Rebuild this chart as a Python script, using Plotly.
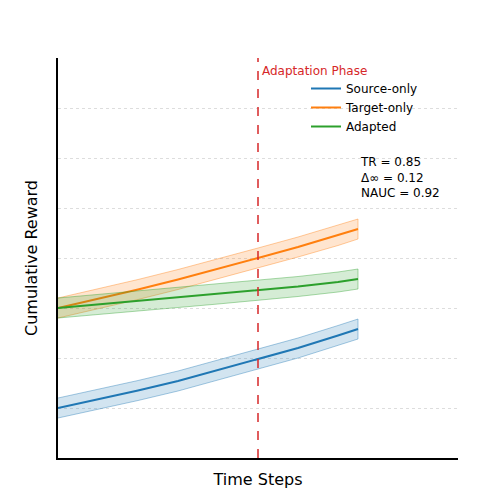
import plotly.graph_objects as go

x = [0, 1, 2, 3, 4, 5, 6, 7, 7.5]
source = [1.0, 1.17, 1.35, 1.54, 1.76, 1.98, 2.2, 2.45, 2.58]
target = [3.0, 3.18, 3.37, 3.57, 3.78, 4.0, 4.22, 4.45, 4.58]
adapted = [3.0, 3.07, 3.14, 3.21, 3.28, 3.35, 3.43, 3.52, 3.58]
band = [0.2, 0.2, 0.2, 0.2, 0.2, 0.2, 0.2, 0.2, 0.2]
names = ["Source-only", "Target-only", "Adapted"]
colors = ["#1f77b4", "#ff7f0e", "#2ca02c"]
fills = ["rgba(31,119,180,0.2)", "rgba(255,127,14,0.2)", "rgba(44,160,44,0.2)"]

fig = go.Figure()
for ys, n, c, f in zip([source, target, adapted], names, colors, fills):
    up = [a + b for a, b in zip(ys, band)]
    lo = [a - b for a, b in zip(ys, band)]
    fig.add_trace(go.Scatter(x=x + x[::-1], y=up + lo[::-1], mode="lines", fill="toself", fillcolor=f,
                             line=dict(color=c, width=0.4), showlegend=False, hoverinfo="skip"))
    fig.add_trace(go.Scatter(x=x, y=ys, mode="lines", name=n, line=dict(color=c, width=2)))

fig.add_shape(type="line", x0=5, x1=5, y0=0, y1=8, line=dict(color="#d62728", dash="dash", width=1.5))
fig.add_annotation(x=5, y=8, text="Adaptation Phase", showarrow=False, xanchor="left", yanchor="top",
                   xshift=2, yshift=-4, font=dict(color="#d62728", size=12))
fig.add_annotation(x=7.5, y=6.1, text="TR = 0.85<br>Δ∞ = 0.12<br>NAUC = 0.92", showarrow=False,
                   xanchor="left", yanchor="top", align="left", font=dict(size=12, color="black"))

fig.update_layout(
    width=500, height=500, margin=dict(l=50, r=50, t=50, b=50, autoexpand=False),
    plot_bgcolor="white", paper_bgcolor="white",
    font=dict(family="DejaVu Sans", size=13, color="black"),
    legend=dict(x=0.62, y=0.96, xanchor="left", yanchor="top", bgcolor="rgba(0,0,0,0)",
                font=dict(size=12), tracegroupgap=0),
    xaxis=dict(range=[0, 10], showticklabels=False, showgrid=False, zeroline=False, automargin=False,
               showline=True, linecolor="black", linewidth=1.5, title=dict(text="Time Steps", standoff=15)),
    yaxis=dict(range=[0, 8], dtick=1, showticklabels=False, showgrid=True, gridcolor="#dddddd",
               griddash="dot", zeroline=False, showline=True, linecolor="black", linewidth=1.5,
               automargin=False, title=dict(text="Cumulative Reward", standoff=15)),
)
fig.write_html("out.html")
